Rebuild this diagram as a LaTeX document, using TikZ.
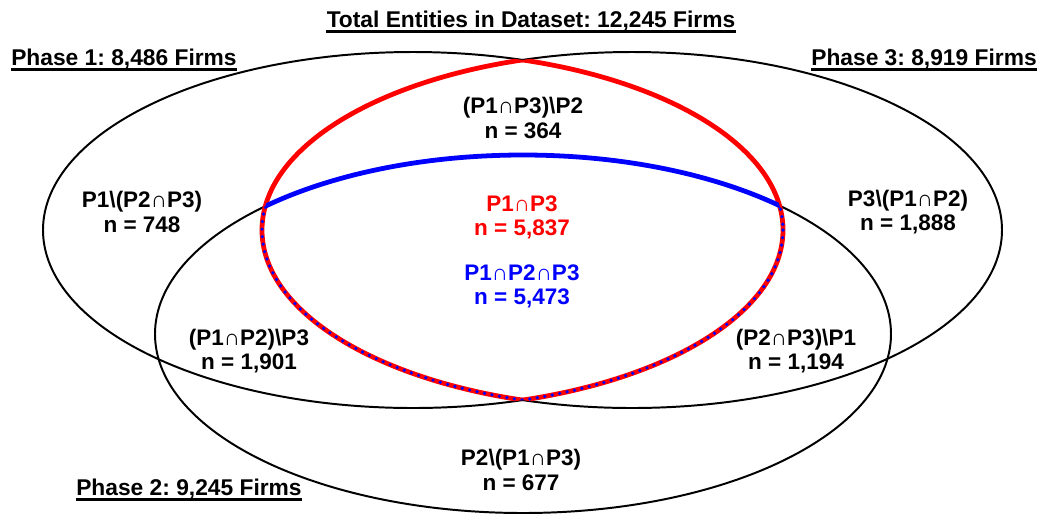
\documentclass[tikz,border=0pt]{standalone}
\usepackage{fontspec}
\setmainfont{Liberation Sans}
\frenchspacing
\begin{document}
\begin{tikzpicture}[x=0.025cm,y=-0.025cm,
    setline/.style={line width=1.4pt},
    lens/.style={red,line width=3.4pt},
    core/.style={blue,line width=3.4pt},
    coredots/.style={blue,line width=2.6pt,line cap=round,dash pattern=on 0pt off 5.4pt},
    region/.style={align=center,font=\fontsize{16}{17.2}\selectfont\bfseries,inner sep=0pt},
    phase/.style={font=\fontsize{16.2}{17.2}\selectfont\bfseries,inner sep=0pt},
    uline/.style={line width=2.1pt}
]
\useasboundingbox (0,0) rectangle (1040,516);
\coordinate (c1) at (413,230);
\coordinate (c3) at (632,230);
\coordinate (c2) at (523,334);

% the three phases
\draw[setline] (c1) ellipse [x radius=370,y radius=178];
\draw[setline] (c3) ellipse [x radius=370,y radius=178];
\draw[setline] (c2) ellipse [x radius=368,y radius=179];

% P1 and P3 lens
\begin{scope}
\clip (c3) ellipse [x radius=370,y radius=178];
\draw[lens] (c1) ellipse [x radius=370,y radius=178];
\end{scope}
\begin{scope}
\clip (c1) ellipse [x radius=370,y radius=178];
\draw[lens] (c3) ellipse [x radius=370,y radius=178];
\end{scope}

% all three phases
\begin{scope}
\clip (c1) ellipse [x radius=370,y radius=178];
\clip (c3) ellipse [x radius=370,y radius=178];
\draw[core] (c2) ellipse [x radius=368,y radius=179];
\end{scope}
\begin{scope}
\clip (c3) ellipse [x radius=370,y radius=178];
\clip (c2) ellipse [x radius=368,y radius=179];
\draw[coredots] (c1) ellipse [x radius=370,y radius=178];
\end{scope}
\begin{scope}
\clip (c1) ellipse [x radius=370,y radius=178];
\clip (c2) ellipse [x radius=368,y radius=179];
\draw[coredots] (c3) ellipse [x radius=370,y radius=178];
\end{scope}

% headings
\node[phase,anchor=base] (total) at (531,27) {Total Entities in Dataset: 12,245 Firms};
\node[phase,anchor=base west] (ph1) at (11,65) {Phase 1: 8,486 Firms};
\node[phase,anchor=base east] (ph3) at (1037,65) {Phase 3: 8,919 Firms};
\node[phase,anchor=base west] (ph2) at (76,495) {Phase 2: 9,245 Firms};
\foreach \n in {total,ph1,ph3,ph2}
  \draw[uline] ([yshift=-3pt]\n.base west) -- ([yshift=-3pt]\n.base east);

% region counts
\node[region] (onlyP1) at (142,212) {P1\textbackslash(P2∩P3)\\n = 748};
\node[region] (onlyP3) at (908,212) {P3\textbackslash(P1∩P2)\\n = 1,888};
\node[region] (p13not2) at (523,118) {(P1∩P3)\textbackslash P2\\n = 364};
\node[region,text=red] (p13) at (522,217) {P1∩P3\\n = 5,837};
\node[region,text=blue] (p123) at (522,286) {P1∩P2∩P3\\n = 5,473};
\node[region] (p12not3) at (249,351) {(P1∩P2)\textbackslash P3\\n = 1,901};
\node[region] (p23not1) at (796,351) {(P2∩P3)\textbackslash P1\\n = 1,194};
\node[region] (onlyP2) at (521,470) {P2\textbackslash(P1∩P3)\\n = 677};
\end{tikzpicture}
\end{document}
